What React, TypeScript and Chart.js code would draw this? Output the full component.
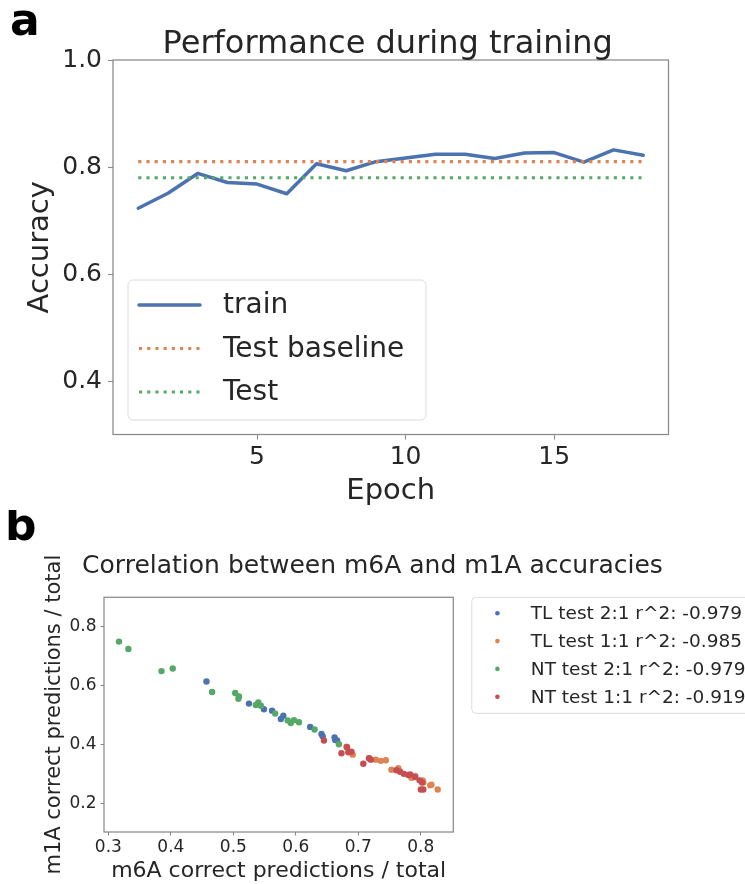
import React, { useEffect, useRef } from "react";
import { Chart, registerables } from "chart.js";

Chart.register(...registerables);

const FONT = "'DejaVu Sans', sans-serif";
const TEXT = "#262626";
const SPINE = "#8a8a8a";
const BLUE = "#4C72B0";
const ORANGE = "#DD8452";
const GREEN = "#55A868";
const RED = "#C44E52";

// ---------- Panel a data ----------
const panelA = "a";
const titleA = "Performance during training";
const epochs = [1, 2, 3, 4, 5, 6, 7, 8, 9, 10, 11, 12, 13, 14, 15, 16, 17, 18];
const trainAcc = [0.723, 0.751, 0.788, 0.771, 0.768, 0.750, 0.806, 0.793, 0.810, 0.817, 0.824, 0.824, 0.816, 0.826, 0.827, 0.809, 0.832, 0.822];
const testBaselineAcc = 0.81;
const testAcc = 0.78;
const accTicks = [0.4, 0.6, 0.8, 1.0];
const epochTicks = [5, 10, 15];
const legendALabels = ["train", "Test baseline", "Test"];

// ---------- Panel b data ----------
const panelB = "b";
const titleB = "Correlation between m6A and m1A accuracies";
const tl21M6A = [0.457, 0.525, 0.549, 0.562, 0.576, 0.580, 0.623, 0.641, 0.643, 0.662, 0.663, 0.666];
const tl21M1A = [0.615, 0.540, 0.521, 0.516, 0.488, 0.499, 0.461, 0.437, 0.429, 0.425, 0.417, 0.415];
const tl11M6A = [0.681, 0.691, 0.718, 0.728, 0.736, 0.744, 0.753, 0.764, 0.785, 0.791, 0.803, 0.804, 0.815, 0.817, 0.827];
const tl11M1A = [0.394, 0.367, 0.354, 0.350, 0.346, 0.348, 0.316, 0.321, 0.289, 0.295, 0.280, 0.273, 0.263, 0.265, 0.249];
const nt21M6A = [0.317, 0.332, 0.385, 0.403, 0.466, 0.503, 0.509, 0.508, 0.536, 0.540, 0.544, 0.567, 0.587, 0.592, 0.597, 0.605, 0.630, 0.669];
const nt21M1A = [0.750, 0.725, 0.650, 0.659, 0.579, 0.576, 0.564, 0.556, 0.535, 0.544, 0.533, 0.506, 0.483, 0.474, 0.484, 0.477, 0.452, 0.402];
const nt11M6A = [0.645, 0.673, 0.682, 0.684, 0.689, 0.708, 0.717, 0.720, 0.761, 0.767, 0.773, 0.780, 0.783, 0.791, 0.798, 0.802, 0.804, 0.800];
const nt11M1A = [0.415, 0.372, 0.392, 0.375, 0.377, 0.336, 0.355, 0.350, 0.314, 0.309, 0.302, 0.298, 0.300, 0.291, 0.280, 0.273, 0.249, 0.249];
const legendBLabels = [
  "TL test 2:1 r^2: -0.979",
  "TL test 1:1 r^2: -0.985",
  "NT test 2:1 r^2: -0.979",
  "NT test 1:1 r^2: -0.919",
];
const m6aTicks = [0.3, 0.4, 0.5, 0.6, 0.7, 0.8];
const m1aTicks = [0.2, 0.4, 0.6, 0.8];

const pts = (xs: number[], ys: number[]) => xs.map((x, i) => ({ x, y: ys[i] }));

const framePlugin = {
  id: "frame",
  afterDraw(chart: any) {
    const { ctx, chartArea } = chart;
    const { left, top, right, bottom } = chartArea;
    ctx.save();
    ctx.strokeStyle = SPINE;
    ctx.lineWidth = 1.25;
    ctx.strokeRect(left, top, right - left, bottom - top);
    ctx.restore();
  },
};

function roundRect(ctx: CanvasRenderingContext2D, x: number, y: number, w: number, h: number, r: number) {
  ctx.beginPath();
  ctx.moveTo(x + r, y);
  ctx.lineTo(x + w - r, y);
  ctx.arcTo(x + w, y, x + w, y + r, r);
  ctx.lineTo(x + w, y + h - r);
  ctx.arcTo(x + w, y + h, x + w - r, y + h, r);
  ctx.lineTo(x + r, y + h);
  ctx.arcTo(x, y + h, x, y + h - r, r);
  ctx.lineTo(x, y + r);
  ctx.arcTo(x, y, x + r, y, r);
  ctx.closePath();
}

const textsA = {
  id: "textsA",
  afterDraw(chart: any) {
    const { ctx, chartArea } = chart;
    ctx.save();
    ctx.fillStyle = "#000";
    ctx.font = `bold 44px ${FONT}`;
    ctx.textAlign = "left";
    ctx.textBaseline = "alphabetic";
    ctx.fillText(panelA, 10, 35);
    ctx.fillStyle = TEXT;
    ctx.font = `32px ${FONT}`;
    ctx.textAlign = "center";
    ctx.fillText(titleA, (chartArea.left + chartArea.right) / 2 - 3, chartArea.top - 7);
    ctx.restore();
  },
};

const legendA = {
  id: "legendA",
  afterDraw(chart: any) {
    const { ctx, chartArea } = chart;
    const x = chartArea.left + 15;
    const h = 140;
    const y = chartArea.bottom - 14.5 - h;
    const w = 298;
    ctx.save();
    roundRect(ctx, x, y, w, h, 5);
    ctx.fillStyle = "rgba(255,255,255,0.8)";
    ctx.fill();
    ctx.strokeStyle = "#dcdcdc";
    ctx.lineWidth = 1;
    ctx.stroke();
    ctx.font = `28px ${FONT}`;
    ctx.textBaseline = "middle";
    ctx.textAlign = "left";
    chart.data.datasets.forEach((ds: any, i: number) => {
      const cy = y + 25 + i * 43.5;
      ctx.strokeStyle = ds.borderColor;
      ctx.lineWidth = ds.borderWidth;
      ctx.setLineDash(ds.borderDash || []);
      ctx.lineCap = ds.borderDash ? "butt" : "round";
      ctx.beginPath();
      ctx.moveTo(x + 11, cy);
      ctx.lineTo(x + 72, cy);
      ctx.stroke();
      ctx.setLineDash([]);
      ctx.fillStyle = TEXT;
      ctx.fillText(ds.label, x + 95, cy + 1);
    });
    ctx.restore();
  },
};

const textsB = {
  id: "textsB",
  afterDraw(chart: any) {
    const { ctx } = chart;
    ctx.save();
    ctx.fillStyle = "#000";
    ctx.font = `bold 44px ${FONT}`;
    ctx.textAlign = "left";
    ctx.textBaseline = "alphabetic";
    ctx.fillText(panelB, 5, 30);
    ctx.fillStyle = TEXT;
    ctx.font = `25px ${FONT}`;
    ctx.textAlign = "center";
    ctx.fillText(titleB, chart.width / 2, 63.3);
    ctx.restore();
  },
};

const legendB = {
  id: "legendB",
  afterDraw(chart: any) {
    const { ctx, chartArea } = chart;
    const x = chartArea.right + 18.5;
    const y = chartArea.top;
    const w = 300;
    const h = 116;
    ctx.save();
    roundRect(ctx, x, y, w, h, 4);
    ctx.fillStyle = "rgba(255,255,255,0.8)";
    ctx.fill();
    ctx.strokeStyle = "#dcdcdc";
    ctx.lineWidth = 1;
    ctx.stroke();
    ctx.font = `18.5px ${FONT}`;
    ctx.textBaseline = "middle";
    ctx.textAlign = "left";
    chart.data.datasets.forEach((ds: any, i: number) => {
      const cy = y + 16 + i * 27.8;
      ctx.fillStyle = ds.backgroundColor;
      ctx.beginPath();
      ctx.arc(x + 25.6, cy, 2.3, 0, Math.PI * 2);
      ctx.fill();
      ctx.fillStyle = TEXT;
      ctx.fillText(ds.label, x + 59, cy + 1);
    });
    ctx.restore();
  },
};

function axisCommon(size: number, tickLen: number, pad: number) {
  return {
    border: { display: false },
    grid: { display: true, drawOnChartArea: false, tickLength: tickLen, color: SPINE, tickWidth: 1.1 },
    ticks: {
      font: { size, family: FONT },
      color: TEXT,
      padding: pad,
      autoSkip: false,
      maxRotation: 0,
      minRotation: 0,
    },
  };
}

export default function App() {
  const refA = useRef<HTMLCanvasElement>(null);
  const refB = useRef<HTMLCanvasElement>(null);

  useEffect(() => {
    Chart.defaults.font.family = FONT;
    Chart.defaults.color = TEXT;

    const xA = axisCommon(25, 5, 3);
    const yA = axisCommon(25, 5, 6);
    const chartA = new Chart(refA.current!, {
      type: "line",
      data: {
        datasets: [
          {
            label: legendALabels[0],
            data: pts(epochs, trainAcc),
            borderColor: BLUE,
            backgroundColor: BLUE,
            borderWidth: 3.5,
            pointRadius: 0,
            tension: 0,
            borderJoinStyle: "round",
            borderCapStyle: "round",
            order: 2,
          },
          {
            label: legendALabels[1],
            data: epochs.map((e) => ({ x: e, y: testBaselineAcc })),
            borderColor: ORANGE,
            backgroundColor: ORANGE,
            borderWidth: 3.1,
            borderDash: [3.1, 5.1],
            borderCapStyle: "butt",
            pointRadius: 0,
            order: 1,
          },
          {
            label: legendALabels[2],
            data: epochs.map((e) => ({ x: e, y: testAcc })),
            borderColor: GREEN,
            backgroundColor: GREEN,
            borderWidth: 3.1,
            borderDash: [3.1, 5.1],
            borderCapStyle: "butt",
            pointRadius: 0,
            order: 0,
          },
        ],
      } as any,
      options: {
        animation: false,
        responsive: false,
        devicePixelRatio: 1,
        layout: { padding: { left: 0, top: 60, right: 76.5, bottom: 0 } },
        plugins: { legend: { display: false }, tooltip: { enabled: false }, title: { display: false } },
        scales: {
          x: {
            type: "linear",
            min: 0.15,
            max: 18.85,
            ...xA,
            ticks: { ...xA.ticks, callback: (v: any) => String(v) },
            afterBuildTicks: (s: any) => {
              s.ticks = epochTicks.map((v) => ({ value: v }));
            },
            afterFit: (s: any) => {
              s.height = 75.5;
            },
            title: { display: true, text: "Epoch", color: TEXT, font: { size: 29, family: FONT }, padding: { top: 0, bottom: 1 } },
          },
          y: {
            type: "linear",
            min: 0.3,
            max: 1.0,
            ...yA,
            ticks: { ...yA.ticks, callback: (v: any) => Number(v).toFixed(1) },
            afterBuildTicks: (s: any) => {
              s.ticks = accTicks.map((v) => ({ value: v }));
            },
            afterFit: (s: any) => {
              s.width = 113;
            },
            title: { display: true, text: "Accuracy", color: TEXT, font: { size: 29, family: FONT }, padding: { top: 23.4, bottom: 0 } },
          },
        },
      } as any,
      plugins: [framePlugin, textsA, legendA],
    });

    const xB = axisCommon(17, 3.5, 1.5);
    const yB = axisCommon(17, 3.5, 4);
    const chartB = new Chart(refB.current!, {
      type: "scatter",
      data: {
        datasets: [
          { label: legendBLabels[0], data: pts(tl21M6A, tl21M1A), backgroundColor: BLUE, borderColor: BLUE, pointRadius: 3.2, pointBorderWidth: 0, order: 3 },
          { label: legendBLabels[1], data: pts(tl11M6A, tl11M1A), backgroundColor: ORANGE, borderColor: ORANGE, pointRadius: 3.2, pointBorderWidth: 0, order: 2 },
          { label: legendBLabels[2], data: pts(nt21M6A, nt21M1A), backgroundColor: GREEN, borderColor: GREEN, pointRadius: 3.2, pointBorderWidth: 0, order: 1 },
          { label: legendBLabels[3], data: pts(nt11M6A, nt11M1A), backgroundColor: RED, borderColor: RED, pointRadius: 3.2, pointBorderWidth: 0, order: 0 },
        ],
      } as any,
      options: {
        animation: false,
        responsive: false,
        devicePixelRatio: 1,
        layout: { padding: { left: 0, top: 87.3, right: 291.7, bottom: 0 } },
        plugins: { legend: { display: false }, tooltip: { enabled: false }, title: { display: false } },
        scales: {
          x: {
            type: "linear",
            min: 0.293,
            max: 0.852,
            ...xB,
            ticks: { ...xB.ticks, callback: (v: any) => Number(v).toFixed(1) },
            afterBuildTicks: (s: any) => {
              s.ticks = m6aTicks.map((v) => ({ value: v }));
            },
            afterFit: (s: any) => {
              s.height = 52;
            },
            title: { display: true, text: "m6A correct predictions / total", color: TEXT, font: { size: 22, family: FONT }, padding: { top: 0, bottom: 0 } },
          },
          y: {
            type: "linear",
            min: 0.105,
            max: 0.9,
            ...yB,
            ticks: { ...yB.ticks, callback: (v: any) => Number(v).toFixed(1) },
            afterBuildTicks: (s: any) => {
              s.ticks = m1aTicks.map((v) => ({ value: v }));
            },
            afterFit: (s: any) => {
              s.width = 104;
            },
            title: { display: true, text: "m1A correct predictions / total", color: TEXT, font: { size: 21, family: FONT }, padding: { top: 42, bottom: 0 } },
          },
        },
      } as any,
      plugins: [framePlugin, textsB, legendB],
    });

    return () => {
      chartA.destroy();
      chartB.destroy();
    };
  }, []);

  return (
    <div style={{ position: "absolute", left: 0, top: 0, width: 745, height: 884, background: "#fff" }}>
      <canvas ref={refA} width={745} height={510} style={{ position: "absolute", left: 0, top: 0, width: 745, height: 510 }} />
      <canvas ref={refB} width={745} height={374} style={{ position: "absolute", left: 0, top: 510, width: 745, height: 374 }} />
    </div>
  );
}
